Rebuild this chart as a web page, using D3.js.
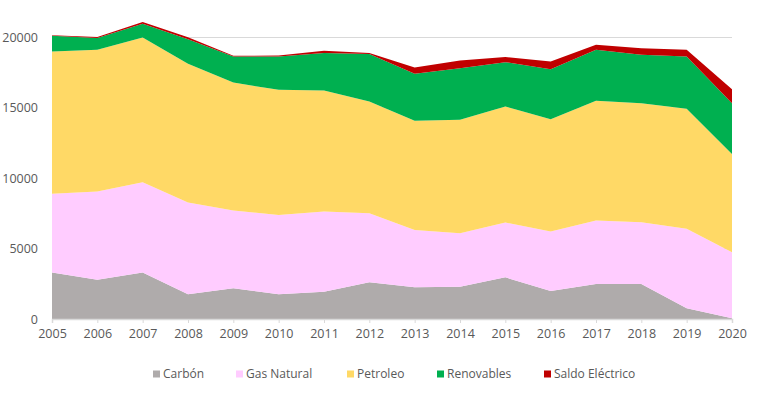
<!DOCTYPE html>
<html>
<head>
<meta charset="utf-8">
<script src="https://cdn.jsdelivr.net/npm/d3@7"></script>
<style>
  body { margin: 0; background: #fff; }
  text { font-family: "Open Sans", "Noto Sans", sans-serif; fill: #595959; }
</style>
</head>
<body>
<svg id="chart" width="765" height="399"></svg>
<script>
// values (ktep)
const years = [2005, 2006, 2007, 2008, 2009, 2010, 2011, 2012, 2013, 2014, 2015, 2016, 2017, 2018, 2019, 2020]
const carbon = [3300, 2780, 3300, 1760, 2180, 1760, 1940, 2610, 2250, 2300, 2960, 1990, 2490, 2490, 760, 50]
const gasNatural = [5590, 6270, 6420, 6510, 5520, 5630, 5690, 4900, 4080, 3790, 3890, 4220, 4500, 4380, 5660, 4690]
const petroleo = [10120, 10080, 10280, 9860, 9100, 8890, 8600, 7940, 7750, 8060, 8250, 7990, 8510, 8460, 8510, 6990]
const renovables = [1110, 830, 970, 1750, 1850, 2370, 2660, 3370, 3340, 3670, 3150, 3550, 3630, 3440, 3720, 3600]
const saldoElectrico = [40, 70, 140, 140, 50, 70, 170, 70, 450, 540, 360, 550, 360, 470, 480, 1000]
const yTicks = [0, 5000, 10000, 15000, 20000]

const series = [
  { name: "Carbón", values: carbon, color: "#AFABAB" },
  { name: "Gas Natural", values: gasNatural, color: "#FFCCFF" },
  { name: "Petroleo", values: petroleo, color: "#FFD966" },
  { name: "Renovables", values: renovables, color: "#00B050" },
  { name: "Saldo Eléctrico", values: saldoElectrico, color: "#C00000" }
]

const MARGIN = { left: 52, right: 33, top: 37.5, bottom: 80 }
const W = 765, H = 399

const rows = years.map((yr, i) => {
  const r = { year: yr }
  series.forEach(s => { r[s.name] = s.values[i] })
  return r
})

const stacked = d3.stack().keys(series.map(s => s.name))(rows)

const x = d3.scaleLinear().domain([years[0], years[years.length - 1]]).range([MARGIN.left, W - MARGIN.right])
const y = d3.scaleLinear().domain([0, 20000]).range([H - MARGIN.bottom, MARGIN.top])

const svg = d3.select("#chart")

// grid
svg.append("g").selectAll("line").data(yTicks.slice(1)).join("line")
  .attr("x1", x.range()[0]).attr("x2", x.range()[1])
  .attr("y1", d => y(d)).attr("y2", d => y(d))
  .attr("stroke", "#d9d9d9").attr("stroke-width", 1)

const area = d3.area()
  .x(d => x(d.data.year))
  .y0(d => y(d[0]))
  .y1(d => y(d[1]))

svg.append("g").selectAll("path").data(stacked).join("path")
  .attr("d", area)
  .attr("fill", (d, i) => series[i].color)

// x axis
const xAxis = svg.append("g")
  .attr("transform", `translate(0, ${y(0)})`)
  .call(d3.axisBottom(x).tickValues(years).tickFormat(d3.format("d")).tickSize(4).tickPadding(6))
xAxis.select(".domain").attr("stroke", "#d9d9d9").attr("stroke-width", 1.5)
xAxis.selectAll(".tick line").attr("stroke", "#d9d9d9")
xAxis.selectAll("text").attr("font-size", 12.5).attr("fill", "#595959")

// y axis labels
const yAxis = svg.append("g")
  .attr("transform", `translate(${MARGIN.left}, 0)`)
  .call(d3.axisLeft(y).tickValues(yTicks).tickFormat(d3.format("d")).tickSize(0).tickPadding(14))
yAxis.select(".domain").remove()
yAxis.selectAll("text").attr("font-size", 12.5).attr("fill", "#595959")

// legend
const legendX = [153, 236, 347, 437, 544]
const legend = svg.append("g").selectAll("g").data(series).join("g")
  .attr("transform", (d, i) => `translate(${legendX[i]}, 374)`)
legend.append("rect").attr("x", 0).attr("y", -3.5).attr("width", 7).attr("height", 7)
  .attr("fill", d => d.color)
legend.append("text").attr("x", 10).attr("dy", "0.35em")
  .attr("font-size", 12).text(d => d.name)
</script>
</body>
</html>
